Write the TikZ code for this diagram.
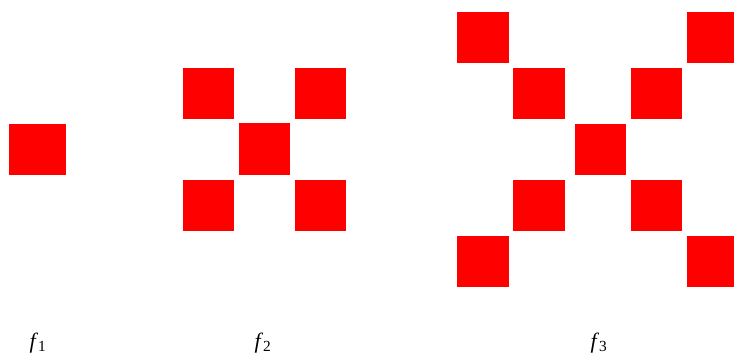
\documentclass[tikz,border=0pt]{standalone}
\usepackage{fontspec}
\setmainfont{Liberation Serif}
\usepackage{xcolor}
\usepackage{tikz}
\usetikzlibrary{positioning}

\begin{document}
\begin{tikzpicture}[x=1pt, y=-1pt, cell/.style={fill=red, inner sep=0pt, minimum width=51.5pt, minimum height=51.5pt},
  lbl/.style={font=\fontsize{22}{24}\selectfont, inner sep=0pt}]
  \useasboundingbox (0,0) rectangle (734,356);
  % f_1
  \node[cell, minimum width=57pt, minimum height=51pt] (a1) at (37.5,149.5) {};
  % f_2
  \node[cell] (b1) at (208.4,93.4) {};
  \node[cell] (b2) at (320.4,93.4) {};
  \node[cell] (b3) at (264.4,149.2) {};
  \node[cell] (b4) at (208.4,205.5) {};
  \node[cell] (b5) at (320.4,205.5) {};
  % f_3
  \node[cell] (c1) at (483,37.7) {};
  \node[cell] (c2) at (712.6,37.7) {};
  \node[cell] (c3) at (539,93.5) {};
  \node[cell] (c4) at (656.7,93.5) {};
  \node[cell] (c5) at (600.4,149.5) {};
  \node[cell] (c6) at (539,205.4) {};
  \node[cell] (c7) at (656.7,205.4) {};
  \node[cell] (c8) at (483,261.7) {};
  \node[cell] (c9) at (712.6,261.7) {};
  % labels
  \node[lbl] (l1) at (38,343) {\textit{f}\textsubscript{1}};
  \node[lbl] (l2) at (263,343) {\textit{f}\textsubscript{2}};
  \node[lbl] (l3) at (599,343) {\textit{f}\textsubscript{3}};
\end{tikzpicture}
\end{document}
